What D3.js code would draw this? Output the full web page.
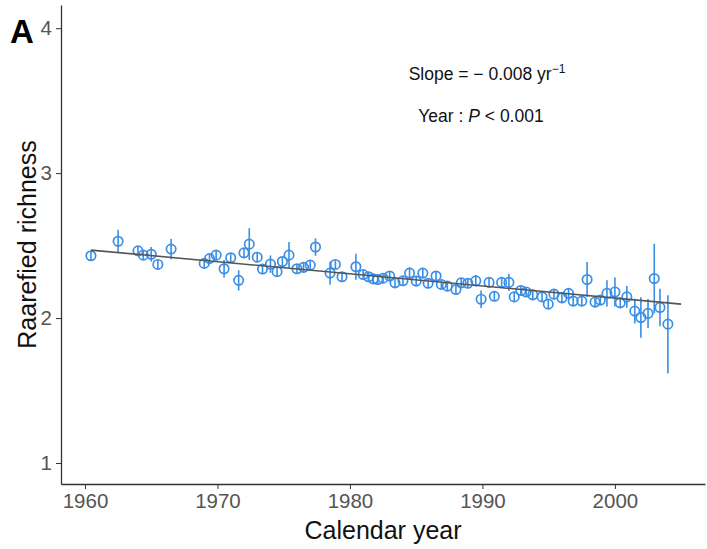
<!DOCTYPE html>
<html lang="en">
<head>
<meta charset="utf-8">
<title>Rarefied richness</title>
<script src="https://cdn.jsdelivr.net/npm/d3@7/dist/d3.min.js"></script>
<style>
  body { margin: 0; background: #fff; }
  svg { font-family: "Liberation Sans", Arial, sans-serif; }
  .axis path, .axis line { stroke: #333; }
  .axis text { fill: #555; }
</style>
</head>
<body>
<div id="chart"></div>
<script>
// sample time (decimal year) and rarefied richness
var years = [1960.45, 1962.5, 1964.0, 1964.4, 1965.0, 1965.5, 1966.5, 1969.0, 1969.4, 1969.9,
  1970.5, 1971.0, 1971.6, 1972.0, 1972.4, 1973.0, 1973.4, 1974.0, 1974.5, 1974.9,
  1975.4, 1976.0, 1976.5, 1977.0, 1977.4, 1978.5, 1978.9, 1979.4, 1980.45, 1981.0,
  1981.4, 1981.75, 1982.1, 1982.5, 1983.0, 1983.4, 1984.0, 1984.5, 1985.0, 1985.5,
  1985.9, 1986.5, 1986.9, 1987.35, 1988.0, 1988.4, 1988.9, 1989.5, 1989.9, 1990.5,
  1990.9, 1991.45, 1992.0, 1992.4, 1992.9, 1993.3, 1993.8, 1994.5, 1994.97, 1995.4,
  1996.0, 1996.5, 1996.85, 1997.5, 1997.9, 1998.5, 1998.9, 1999.4, 2000.0, 2000.4,
  2000.9, 2001.5, 2001.96, 2002.5, 2002.97, 2003.4, 2004.0];
var richness = [2.43, 2.53, 2.464, 2.434, 2.44, 2.37, 2.476, 2.377, 2.41, 2.434,
  2.34, 2.416, 2.26, 2.45, 2.51, 2.42, 2.338, 2.372, 2.32, 2.39,
  2.434, 2.34, 2.35, 2.365, 2.49, 2.31, 2.37, 2.285, 2.354, 2.30,
  2.285, 2.27, 2.266, 2.275, 2.29, 2.243, 2.257, 2.31, 2.255, 2.31,
  2.24, 2.29, 2.232, 2.22, 2.197, 2.243, 2.24, 2.257, 2.13, 2.246,
  2.15, 2.246, 2.246, 2.146, 2.19, 2.18, 2.16, 2.146, 2.096, 2.165,
  2.14, 2.17, 2.117, 2.117, 2.266, 2.11, 2.124, 2.17, 2.18, 2.105,
  2.146, 2.048, 2.004, 2.032, 2.273, 2.073, 1.958];
var errLow = [0.03, 0.08, 0.03, 0.03, 0.05, 0.03, 0.07, 0.03, 0.03, 0.03,
  0.06, 0.03, 0.07, 0.03, 0.11, 0.03, 0.03, 0.06, 0.03, 0.03,
  0.09, 0.03, 0.03, 0.03, 0.06, 0.08, 0.03, 0.03, 0.09, 0.03,
  0.03, 0.03, 0.03, 0.03, 0.03, 0.03, 0.03, 0.04, 0.03, 0.03,
  0.03, 0.03, 0.03, 0.03, 0.03, 0.03, 0.03, 0.04, 0.06, 0.03,
  0.03, 0.03, 0.06, 0.03, 0.03, 0.03, 0.03, 0.03, 0.03, 0.03,
  0.04, 0.03, 0.03, 0.03, 0.12, 0.03, 0.03, 0.09, 0.10, 0.03,
  0.075, 0.085, 0.14, 0.10, 0.24, 0.13, 0.34];
var errHigh = [0.03, 0.08, 0.03, 0.03, 0.05, 0.03, 0.07, 0.03, 0.03, 0.03,
  0.06, 0.03, 0.07, 0.03, 0.11, 0.03, 0.03, 0.06, 0.03, 0.03,
  0.09, 0.03, 0.03, 0.03, 0.06, 0.08, 0.03, 0.03, 0.09, 0.03,
  0.03, 0.03, 0.03, 0.03, 0.03, 0.03, 0.03, 0.04, 0.03, 0.03,
  0.03, 0.03, 0.03, 0.03, 0.03, 0.03, 0.03, 0.04, 0.06, 0.03,
  0.03, 0.03, 0.06, 0.03, 0.03, 0.03, 0.03, 0.03, 0.03, 0.03,
  0.04, 0.03, 0.03, 0.03, 0.12, 0.03, 0.03, 0.09, 0.10, 0.03,
  0.075, 0.085, 0.14, 0.10, 0.24, 0.13, 0.20];

// fitted linear trend
var fitYears = [1960.45, 2005.0];
var fitValues = [2.469, 2.096];

var xTicks = [1960, 1970, 1980, 1990, 2000];
var yTicks = [1, 2, 3, 4];
var xLimits = [1958.19, 2006.8];
var yLimits = [0.855, 4.16];

const width = 707;
const height = 549;
const blue = "#3a8ee6";

const svg = d3.select("#chart").append("svg")
    .attr("width", width)
    .attr("height", height);

const x = d3.scaleLinear().domain(xLimits).range([61, 705]);
const y = d3.scaleLinear().domain(yLimits).range([484, 5]);

// axes
svg.append("g")
    .attr("class", "axis")
    .attr("transform", "translate(0," + y(yLimits[0]) + ")")
    .call(d3.axisBottom(x).tickValues(xTicks).tickSize(5).tickSizeOuter(0).tickPadding(4).tickFormat(d3.format("d")))
    .call(g => g.select(".domain").attr("stroke-width", 1.3))
    .call(g => g.selectAll("text").attr("font-size", 20.5));

svg.append("g")
    .attr("class", "axis")
    .attr("transform", "translate(" + x(xLimits[0]) + ",0)")
    .call(d3.axisLeft(y).tickValues(yTicks).tickSize(5).tickSizeOuter(0).tickPadding(4).tickFormat(d3.format("d")))
    .call(g => g.select(".domain").attr("stroke-width", 1.3))
    .call(g => g.selectAll("text").attr("font-size", 20.5));

// axis titles
svg.append("text")
    .attr("x", (x(xLimits[0]) + x(xLimits[1])) / 2)
    .attr("y", 539)
    .attr("text-anchor", "middle")
    .attr("font-size", 25)
    .attr("fill", "#111")
    .text("Calendar year");

svg.append("text")
    .attr("transform", "translate(36," + (y(yLimits[0]) + y(yLimits[1])) / 2 + ") rotate(-90)")
    .attr("text-anchor", "middle")
    .attr("font-size", 25)
    .attr("fill", "#111")
    .text("Raarefied richness");

// panel letter
svg.append("text")
    .attr("x", 10)
    .attr("y", 43)
    .attr("font-size", 33)
    .attr("font-weight", "bold")
    .attr("fill", "#000")
    .text("A");

const pts = years.map((d, i) => ({ year: d, value: richness[i], lo: richness[i] - errLow[i], hi: richness[i] + errHigh[i] }));

// error bars
svg.selectAll("line.err")
    .data(pts)
    .enter()
    .append("line")
    .attr("class", "err")
    .attr("x1", d => x(d.year))
    .attr("x2", d => x(d.year))
    .attr("y1", d => y(d.lo))
    .attr("y2", d => y(d.hi))
    .attr("stroke", blue)
    .attr("stroke-width", 1.6);

// points
svg.selectAll("circle")
    .data(pts)
    .enter()
    .append("circle")
    .attr("cx", d => x(d.year))
    .attr("cy", d => y(d.value))
    .attr("r", 4.7)
    .attr("fill", "none")
    .attr("stroke", blue)
    .attr("stroke-width", 1.7);

// trend line
svg.append("path")
    .datum(fitYears.map((d, i) => [d, fitValues[i]]))
    .attr("d", d3.line().x(d => x(d[0])).y(d => y(d[1])))
    .attr("fill", "none")
    .attr("stroke", "#555")
    .attr("stroke-width", 1.6);

// annotation
const ann = svg.append("g").attr("font-size", 17.5).attr("fill", "#111").attr("text-anchor", "middle");
const t1 = ann.append("text").attr("x", 487).attr("y", 80);
t1.append("tspan").text("Slope = \u2212 0.008 yr");
t1.append("tspan").attr("dy", -7).attr("font-size", 12).text("\u22121");
const t2 = ann.append("text").attr("x", 481).attr("y", 122);
t2.append("tspan").text("Year : ");
t2.append("tspan").attr("font-style", "italic").text("P");
t2.append("tspan").text(" < 0.001");
</script>
</body>
</html>
